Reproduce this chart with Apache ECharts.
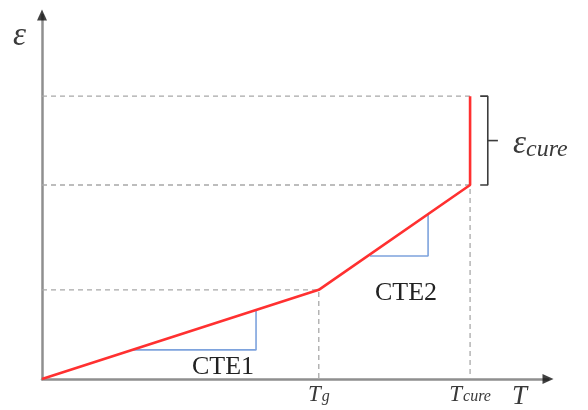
<!DOCTYPE html>
<html>
<head>
<meta charset="utf-8">
<script src="https://cdn.jsdelivr.net/npm/echarts@6/dist/echarts.min.js"></script>
<style>html,body{margin:0;padding:0;background:#fff}#c{width:588px;height:410px}</style>
</head>
<body>
<div id="c"></div>
<script>
// Abstract units: T and strain axes both run 0..100
const curvePoints = [[0, 0], [54.7, 24.5], [84.6, 53.3], [84.6, 77.7]];
const guideTg = [[0, 24.5], [54.7, 24.5], [54.7, 0]];
const guideCure = [[0, 53.3], [84.6, 53.3], [84.6, 0]];
const guideTop = [[0, 77.7], [84.6, 77.7]];
const cte1Triangle = [[17.8, 8.0], [42.3, 8.0], [42.3, 19.0]];
const cte2Triangle = [[64.8, 33.8], [76.3, 33.8], [76.3, 45.1]];
const bracketPoints = [[86.6, 77.7], [88.1, 77.7], [88.1, 53.3], [86.6, 53.3]];
const bracketTick = [[88.1, 65.5], [90.1, 65.5]];
const arrowPoints = [[100, 0, -90], [0, 100, 0]];
const tickValues = [54.7, 84.6];
const tickSubs = ['g', 'cure'];

const serif = '"Liberation Serif", "DejaVu Serif", serif';
const chart = echarts.init(document.getElementById('c'), null, {renderer: 'canvas'});

function seg(data, color, width, type) {
  return {
    type: 'line', data: data, symbol: 'none', silent: true, animation: false,
    lineStyle: {color: color, width: width, type: type || 'solid'},
    clip: false
  };
}

const dash = [5, 4];
chart.setOption({
  animation: false,
  grid: {left: 42, right: 40, top: 15, bottom: 31},
  xAxis: {
    type: 'value', min: 0, max: 100,
    splitLine: {show: false},
    axisTick: {show: false},
    axisLine: {lineStyle: {color: '#8f8f8f', width: 2.5}},
    axisLabel: {
      customValues: tickValues,
      margin: 4,
      formatter: function (v) {
        const i = tickValues.indexOf(v);
        return i < 0 ? '' : '{b|T}{s|' + tickSubs[i] + '}';
      },
      rich: {
        b: {fontFamily: serif, fontStyle: 'italic', fontSize: 23, color: '#3a3a3a', verticalAlign: 'top', lineHeight: 22},
        s: {fontFamily: serif, fontStyle: 'italic', fontSize: 16, color: '#3a3a3a', verticalAlign: 'bottom', lineHeight: 16, padding: [10, 0, 0, 1]}
      }
    }
  },
  yAxis: {
    type: 'value', min: 0, max: 100,
    splitLine: {show: false},
    axisTick: {show: false},
    axisLabel: {show: false},
    axisLine: {lineStyle: {color: '#8f8f8f', width: 2.5}}
  },
  series: [
    seg(guideTg, '#a8a8a8', 1.3, dash),
    seg(guideCure, '#a8a8a8', 1.3, dash),
    seg(guideTop, '#a8a8a8', 1.3, dash),
    seg(cte1Triangle, '#7ea3dd', 1.6),
    seg(cte2Triangle, '#7ea3dd', 1.6),
    seg(bracketPoints, '#3c3c3c', 1.6),
    seg(bracketTick, '#3c3c3c', 1.6),
    Object.assign(seg(curvePoints, '#ff3030', 2.6), {z: 5}),
    {
      type: 'scatter', clip: false, silent: true, z: 6,
      symbol: 'triangle', symbolSize: [10, 11],
      data: arrowPoints.map(p => ({value: [p[0], p[1]], symbolRotate: p[2]})),
      itemStyle: {color: '#111'}
    }
  ],
  graphic: [
    {type: 'text', left: 13, top: 20, style: {text: 'ε', font: 'italic 33px ' + serif, fill: '#3a3a3a'}},
    {type: 'text', left: 512, top: 383, style: {text: 'T', font: 'italic 27px ' + serif, fill: '#3a3a3a'}},
    {type: 'text', left: 192, top: 354, style: {text: 'CTE1', font: '26px ' + serif, fill: '#222'}},
    {type: 'text', left: 375, top: 280, style: {text: 'CTE2', font: '26px ' + serif, fill: '#222'}},
    {type: 'text', left: 513, top: 122, style: {
      text: '{e|ε}{s|cure}',
      rich: {
        e: {font: 'italic 33px ' + serif, fill: '#3a3a3a', verticalAlign: 'top', lineHeight: 34},
        s: {font: 'italic 24px ' + serif, fill: '#3a3a3a', verticalAlign: 'bottom', lineHeight: 24, padding: [16, 0, 0, 0]}
      }
    }}
  ]
});
</script>
</body>
</html>
